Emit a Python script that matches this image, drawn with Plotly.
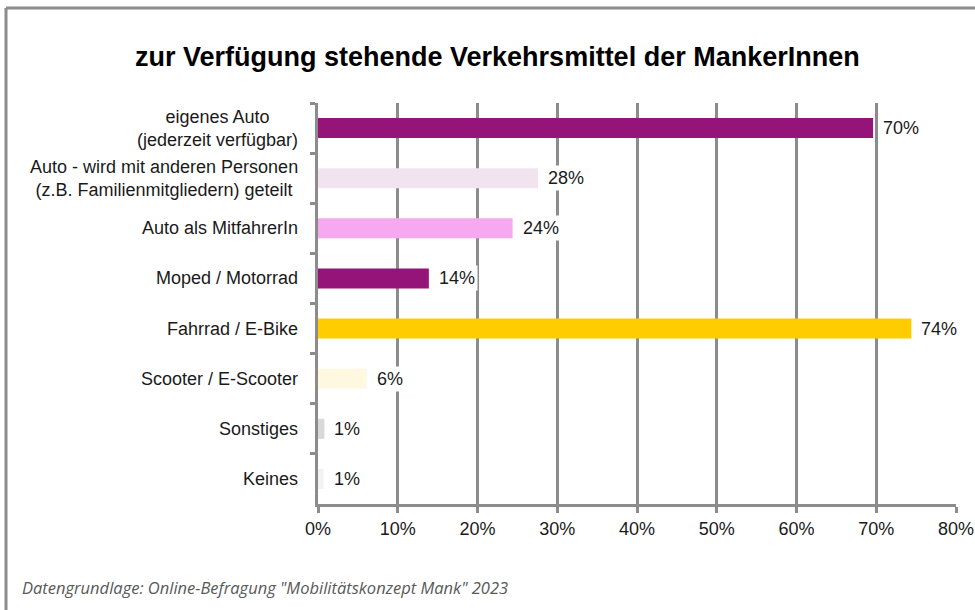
import plotly.graph_objects as go

# data (shares in %)
categories = [
    "eigenes Auto<br>(jederzeit verfügbar)",
    "Auto - wird mit anderen Personen<br>(z.B. Familienmitgliedern) geteilt",
    "Auto als MitfahrerIn",
    "Moped / Motorrad",
    "Fahrrad / E-Bike",
    "Scooter / E-Scooter",
    "Sonstiges",
    "Keines",
]
values = [69.6, 27.6, 24.4, 13.9, 74.4, 6.1, 0.8, 0.7]
bar_colors = ["#941479", "#F2E4EE", "#F7A9EF", "#941479",
              "#FFCC00", "#FFF8E1", "#D9D9D9", "#F2F2F2"]
x_ticks = [0, 10, 20, 30, 40, 50, 60, 70, 80]
x_tick_labels = [f"{t}%" for t in x_ticks]

title = "zur Verfügung stehende Verkehrsmittel der MankerInnen"
source = 'Datengrundlage: Online-Befragung "Mobilitätskonzept Mank" 2023'

grid = "#8C8C8C"
font = "Liberation Sans, Arial, sans-serif"

# plot area in pixels (used to place the frame / title / footer)
L, T, W, H = 318, 103, 638, 401


def px_x(x):
    return (x - L) / W


def px_y(y):
    return (T + H - y) / H


fig = go.Figure(go.Bar(
    x=values,
    y=categories,
    orientation="h",
    marker=dict(color=bar_colors, line=dict(width=0)),
    hoverinfo="skip",
))

# value labels with white background (they cut through the gridlines)
for cat, v in zip(categories, values):
    fig.add_annotation(
        x=v, y=cat, xref="x", yref="y",
        text=f"{round(v)}%", showarrow=False,
        xanchor="left", xshift=7,
        bgcolor="white", borderpad=2,
        font=dict(family=font, size=18, color="#1A1A1A"),
    )

# category labels, lines centred like the original
for cat in categories:
    fig.add_annotation(
        x=0, y=cat, xref="paper", yref="y",
        text=cat, showarrow=False,
        xanchor="right", xshift=-18, align="center",
        font=dict(family=font, size=18, color="#1A1A1A"),
    )

fig.add_annotation(
    x=px_x(497), y=px_y(57), xref="paper", yref="paper",
    text=f"<b>{title}</b>", showarrow=False,
    xanchor="center", yanchor="middle",
    font=dict(family=font, size=27, color="#000000"),
)
fig.add_annotation(
    x=px_x(20), y=px_y(587), xref="paper", yref="paper",
    text=f"<i>{source}</i>", showarrow=False,
    xanchor="left", yanchor="middle",
    font=dict(family="Open Sans, sans-serif", size=16.5, color="#595959"),
)

# outer frame (top and left edge visible)
fig.add_shape(type="line", xref="paper", yref="paper",
              x0=px_x(6), x1=px_x(990), y0=px_y(8), y1=px_y(8),
              line=dict(color=grid, width=3))
fig.add_shape(type="line", xref="paper", yref="paper",
              x0=px_x(6), x1=px_x(6), y0=px_y(8), y1=px_y(630),
              line=dict(color=grid, width=3))

fig.update_layout(
    width=975, height=610,
    margin=dict(l=L, r=975 - L - W, t=T, b=610 - T - H),
    paper_bgcolor="white", plot_bgcolor="white",
    showlegend=False,
    bargap=0.6,
    font=dict(family=font, size=18, color="#1A1A1A"),
)

fig.update_xaxes(
    range=[0, 80], tickvals=x_ticks, ticktext=x_tick_labels,
    showgrid=True, gridcolor=grid, gridwidth=3,
    showline=True, linecolor=grid, linewidth=3,
    ticks="outside", ticklen=6, tickwidth=3, tickcolor=grid,
    zeroline=False, fixedrange=True, automargin=False,
    tickfont=dict(family=font, size=18, color="#1A1A1A"),
)
fig.update_yaxes(
    autorange="reversed",
    showticklabels=False, showgrid=False,
    showline=True, linecolor=grid, linewidth=3,
    ticks="outside", ticklen=5, tickwidth=3, tickcolor=grid,
    tickson="boundaries", fixedrange=True, automargin=False,
)

fig.write_html("out.html", config={"displayModeBar": False},
               post_script="document.body.style.margin='0';")
